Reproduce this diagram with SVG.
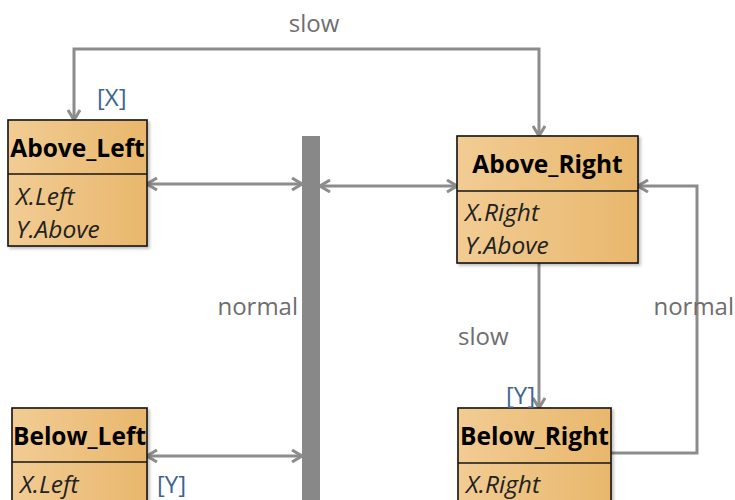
<svg xmlns="http://www.w3.org/2000/svg" width="735" height="500" viewBox="0 0 735 500">
<defs>
<linearGradient id="boxfill" x1="0" y1="0" x2="1" y2="0">
<stop offset="0" stop-color="#f2cc94"/>
<stop offset="1" stop-color="#e8b76c"/>
</linearGradient>
<marker id="arr" viewBox="0 0 12 14" refX="11" refY="7" markerWidth="12" markerHeight="14" markerUnits="userSpaceOnUse" orient="auto-start-reverse">
<path d="M1,1 L11,7 L1,13" fill="none" stroke="#8c8c8c" stroke-width="3"/>
</marker>
<filter id="sh" x="-10%" y="-10%" width="130%" height="130%">
<feDropShadow dx="2" dy="2" stdDeviation="1.5" flood-color="#000" flood-opacity="0.25"/>
</filter>
</defs>
<style>
.box{fill:url(#boxfill);stroke:#141414;stroke-width:1.6;filter:url(#sh)}
.div{stroke:#141414;stroke-width:1.6}
.title{font-family:"Open Sans","Noto Sans","DejaVu Sans",sans-serif;font-weight:bold;font-size:24.5px;fill:#000;text-anchor:middle}
.item{font-family:"Open Sans","Noto Sans","DejaVu Sans",sans-serif;font-style:italic;font-size:24.5px;fill:#222}
.lbl{font-family:"Open Sans","Noto Sans","DejaVu Sans",sans-serif;font-size:24px;fill:#6e6e6e}
.role{font-family:"Open Sans","Noto Sans","DejaVu Sans",sans-serif;font-size:24px;fill:#3d6491}
.con{fill:none;stroke:#8c8c8c;stroke-width:3}
</style>
<rect width="735" height="500" fill="#fff"/>

<g id="bar">
<rect x="302" y="136" width="18" height="380" fill="#888"/>
</g>

<g id="connectors">
<path class="con" d="M74,120 L74,49 L539,49 L539,136" marker-start="url(#arr)" marker-end="url(#arr)"/>
<path class="con" d="M147,184 L302,184" marker-start="url(#arr)" marker-end="url(#arr)"/>
<path class="con" d="M320,186 L457,186" marker-start="url(#arr)" marker-end="url(#arr)"/>
<path class="con" d="M539,263 L539,408" marker-end="url(#arr)"/>
<path class="con" d="M611,453 L697,453 L697,186 L638,186" marker-end="url(#arr)"/>
<path class="con" d="M147,456 L302,456" marker-start="url(#arr)" marker-end="url(#arr)"/>
</g>

<g id="Above_Left">
<rect class="box" x="8" y="120" width="139" height="126"/>
<line class="div" x1="8" y1="174" x2="147" y2="174"/>
<text class="title" x="77.5" y="157">Above_Left</text>
<text class="item" x="16" y="205">X.Left</text>
<text class="item" x="16" y="238">Y.Above</text>
</g>

<g id="Above_Right">
<rect class="box" x="457" y="136" width="181" height="127"/>
<line class="div" x1="457" y1="191" x2="638" y2="191"/>
<text class="title" x="547.5" y="173">Above_Right</text>
<text class="item" x="465" y="221">X.Right</text>
<text class="item" x="465" y="254">Y.Above</text>
</g>

<g id="Below_Left">
<rect class="box" x="12" y="408" width="135" height="120"/>
<line class="div" x1="12" y1="462" x2="147" y2="462"/>
<text class="title" x="79.5" y="445">Below_Left</text>
<text class="item" x="20" y="493">X.Left</text>
</g>

<g id="Below_Right">
<rect class="box" x="458" y="408" width="153" height="120"/>
<line class="div" x1="458" y1="463" x2="611" y2="463"/>
<text class="title" x="534.5" y="445">Below_Right</text>
<text class="item" x="466" y="493">X.Right</text>
</g>

<g id="labels">
<text class="lbl" x="314" y="32" text-anchor="middle">slow</text>
<text class="role" x="97" y="106">[X]</text>
<text class="lbl" x="298" y="315" text-anchor="end">normal</text>
<text class="lbl" x="734" y="315" text-anchor="end">normal</text>
<text class="lbl" x="458" y="345">slow</text>
<text class="role" x="535" y="404" text-anchor="end">[Y]</text>
<text class="role" x="157" y="493">[Y]</text>
</g>
</svg>
